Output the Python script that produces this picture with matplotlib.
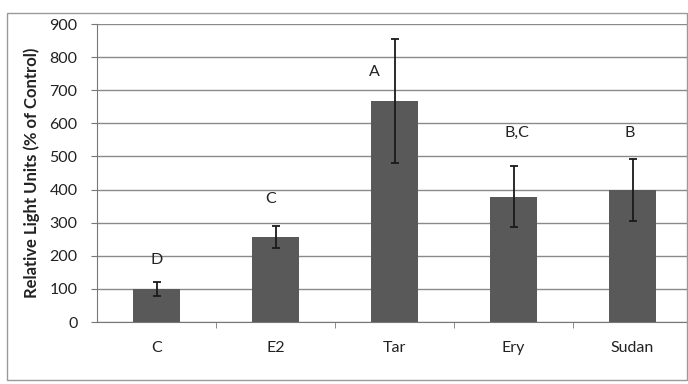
import matplotlib
matplotlib.use("Agg")
import matplotlib.pyplot as plt
from matplotlib.patches import Rectangle

categories = ["C", "E2", "Tar", "Ery", "Sudan"]
values = [100, 256, 668, 379, 398]
errors = [22, 33, 187, 93, 94]
letters = ["D", "C", "A", "B,C", "B"]
letter_x = [0.0, -0.04, -0.17, 0.03, -0.02]
letter_y = [188, 372, 755, 571, 571]
yticks = [0, 100, 200, 300, 400, 500, 600, 700, 800, 900]

plt.rcParams['font.family'] = ['Lato', 'DejaVu Sans']

fig = plt.figure(figsize=(6.88, 3.84), dpi=100)
fig.patch.set_facecolor('white')
fig.patches.append(Rectangle((7/688, 1-380/384), 680/688, 367/384, transform=fig.transFigure,
                             fill=False, edgecolor='#9a9a9a', linewidth=1.0))

ax = fig.add_axes([97/688, 1-322/384, 595/688, 298/384])
x = list(range(len(categories)))
ax.bar(x, values, width=0.4, color='#595959', zorder=3)
ax.errorbar(x, values, yerr=errors, fmt='none', ecolor='#1a1a1a', elinewidth=1.3,
            capsize=3, capthick=1.3, zorder=4)
for xi, dx, t, ly in zip(x, letter_x, letters, letter_y):
    ax.text(xi + dx, ly, t, ha='center', va='center', fontsize=11.5, color='#222222')

ax.set_xlim(-0.5, len(categories) - 0.5)
ax.set_ylim(0, 900)
ax.set_yticks(yticks)
ax.set_yticklabels([str(v) for v in yticks], fontsize=11.5, color='#222222')
ax.yaxis.grid(True, color='#8a8a8a', linewidth=1.0, zorder=0)
ax.set_axisbelow(True)

ax.set_xticks(x)
ax.set_xticklabels(categories, fontsize=11.5, color='#222222')
ax.tick_params(axis='x', length=0, pad=14)
ax.set_xticks([i + 0.5 for i in range(len(categories) - 1)], minor=True)
ax.tick_params(axis='x', which='minor', length=4, direction='out', color='#777777')
ax.tick_params(axis='y', length=4, direction='out', color='#777777', pad=10)

for s in ['top', 'right']:
    ax.spines[s].set_visible(False)
ax.spines['left'].set_color('#777777')
ax.spines['bottom'].set_color('#777777')

ax.set_ylabel("Relative Light Units (% of Control)", fontsize=12, fontweight='bold',
              color='#222222', labelpad=7)

fig.savefig("out.png", dpi=100)
